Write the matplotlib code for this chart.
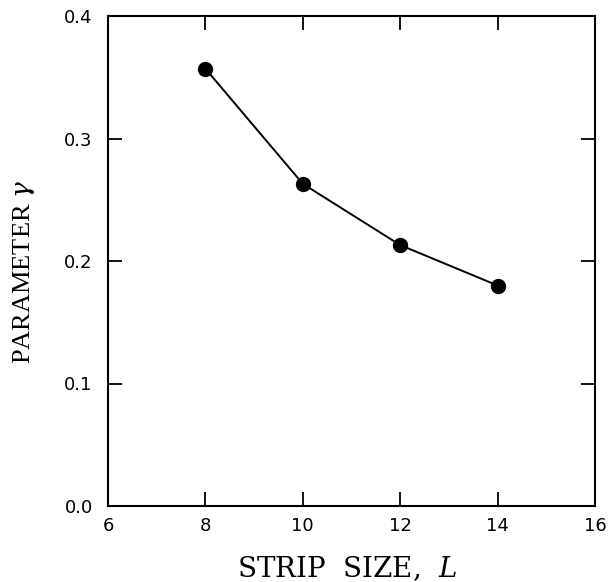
import matplotlib
matplotlib.use("Agg")
import matplotlib.pyplot as plt

plt.rcParams["mathtext.fontset"] = "custom"
plt.rcParams["mathtext.rm"] = "DejaVu Serif"
plt.rcParams["mathtext.it"] = "DejaVu Serif:italic"

strip_size = [8, 10, 12, 14]
gamma = [0.357, 0.263, 0.213, 0.180]
x_ticks = [6, 8, 10, 12, 14, 16]
y_ticks = [0.0, 0.1, 0.2, 0.3, 0.4]
y_tick_labels = ["0.0", "0.1", "0.2", "0.3", "0.4"]

fig = plt.figure(figsize=(6.08, 5.82), dpi=100)
ax = fig.add_axes([108/608, 1-506/582, (595-108)/608, (506-16)/582])

ax.plot(strip_size, gamma, color="black", lw=1.4, marker="o", ms=10, mfc="black", mec="black")

ax.set_xlim(6, 16)
ax.set_ylim(0, 0.4)
ax.set_xticks(x_ticks)
ax.set_yticks(y_ticks)
ax.set_yticklabels(y_tick_labels)
ax.tick_params(direction="in", length=10, width=1.3, top=True, right=True,
               labeltop=False, labelright=False, labelsize=13)
ax.tick_params(axis="x", pad=8)
ax.tick_params(axis="y", pad=11)
for lab in ax.get_xticklabels() + ax.get_yticklabels():
    lab.set_family("DejaVu Sans")
for s in ax.spines.values():
    s.set_linewidth(1.5)

ax.set_xlabel(r"STRIP  SIZE,  $\mathit{L}$", family="DejaVu Serif", fontsize=20)
ax.xaxis.set_label_coords(0.491, -0.098)
ax.set_ylabel(r"PARAMETER $\mathit{\gamma}$", family="Liberation Serif", fontsize=19,
              math_fontfamily="dejavuserif")
ax.yaxis.set_label_coords(-0.146, 0.478)

fig.savefig("out.png", dpi=100)
